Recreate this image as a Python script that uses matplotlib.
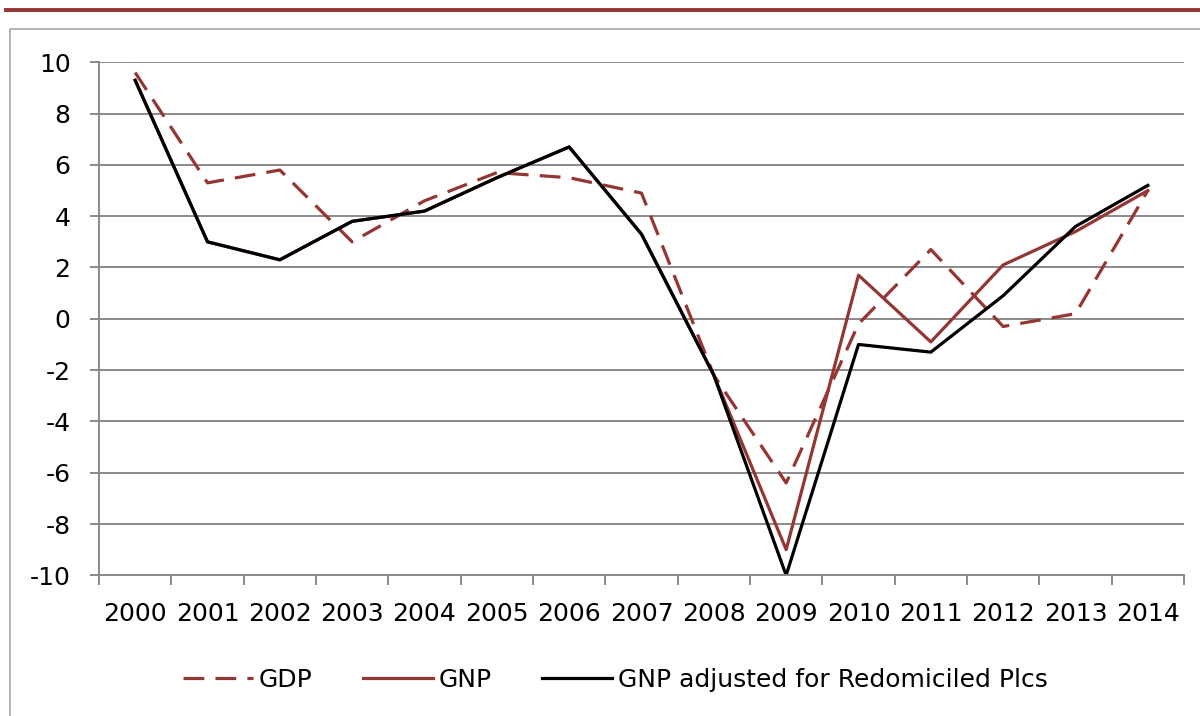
import matplotlib.pyplot as plt
from matplotlib.lines import Line2D

# data (annual growth, %)
years = [str(y) for y in range(2000, 2015)]
gdp = [9.6, 5.3, 5.8, 3.0, 4.6, 5.7, 5.5, 4.9, -2.2, -6.4, -0.2, 2.7, -0.3, 0.2, 5.0]
gnp = [9.3, 3.0, 2.3, 3.8, 4.2, 5.5, 6.7, 3.3, -2.2, -9.0, 1.7, -0.9, 2.1, 3.4, 5.0]
gnp_adj = [9.3, 3.0, 2.3, 3.8, 4.2, 5.5, 6.7, 3.3, -2.2, -10.0, -1.0, -1.3, 0.9, 3.6, 5.2]
yticks = list(range(-10, 11, 2))

red = "#943634"
grey = "#8a8a8a"

plt.rcParams["font.family"] = ["DejaVu Sans"]
fig = plt.figure(figsize=(12, 7.16), dpi=100)
W, H = 1200, 716

# decoration: dark red rule at the top and the chart frame
fig.add_artist(Line2D([6 / W, 1], [1 - 10 / H, 1 - 10 / H], color=red, lw=2.8))
fig.add_artist(Line2D([10 / W, 10 / W, 1], [0, 1 - 29 / H, 1 - 29 / H], color="#a6a6a6", lw=1.2))

ax = fig.add_axes([99 / W, 1 - 575.3 / H, (1184 - 99) / W, (575.3 - 62.3) / H])
x = list(range(len(years)))

ax.plot(x, gdp, color=red, lw=2.3, dashes=(6.5, 3.5), label="GDP")
ax.plot(x, gnp, color=red, lw=2.3, label="GNP")
ax.plot(x, gnp_adj, color="black", lw=2.3, label="GNP adjusted for Redomiciled Plcs")

ax.set_xlim(-0.5, len(years) - 0.5)
ax.set_ylim(-10, 10)
ax.set_yticks(yticks)
ax.set_yticklabels([str(v) for v in yticks])
ax.set_xticks(x)
ax.set_xticklabels(years)
ax.set_xticks([i - 0.5 for i in range(len(years) + 1)], minor=True)

ax.grid(axis="y", color=grey, lw=1.4)
ax.set_axisbelow(True)
for s in ["top", "right"]:
    ax.spines[s].set_visible(False)
ax.spines["left"].set_color(grey)
ax.spines["left"].set_linewidth(1.4)
ax.spines["bottom"].set_color(grey)
ax.spines["bottom"].set_linewidth(1.4)

ax.tick_params(axis="y", length=6.5, width=1.4, color=grey, pad=14, labelsize=18)
ax.tick_params(axis="x", which="major", length=0, pad=19, labelsize=18)
ax.tick_params(axis="x", which="minor", length=7, width=1.4, color=grey)

fig.legend(loc="center", bbox_to_anchor=(0.513, 1 - 680 / H), ncol=3, frameon=False,
           fontsize=18, handlelength=2.8, handletextpad=0.25, columnspacing=2.0)

fig.savefig("out.png", dpi=100)
